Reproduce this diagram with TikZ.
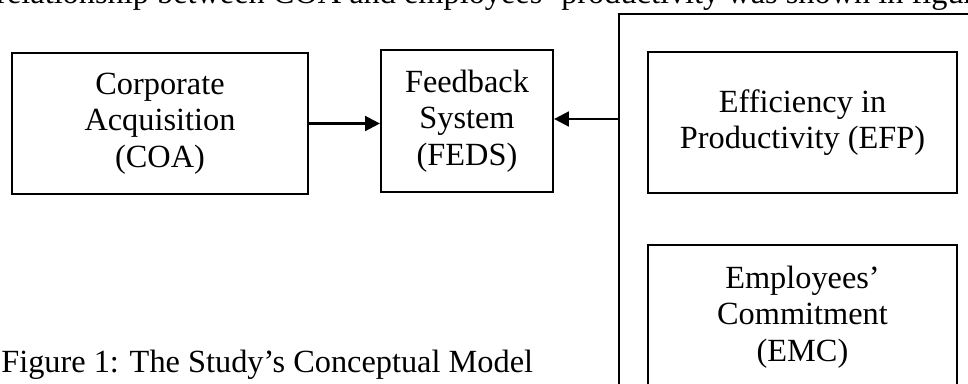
\documentclass[tikz,border=0pt]{standalone}
\usepackage{fontspec}
\setmainfont{Liberation Serif}
\usetikzlibrary{arrows.meta,positioning}

\begin{document}
\begin{tikzpicture}[x=0.025cm, y=-0.025cm,
    box/.style={draw, line width=1.5pt, align=center, inner sep=0pt, font=\fontsize{23}{26}\selectfont},
    link/.style={line width=1.7pt, -{Triangle[length=10.5pt, width=10.5pt]}},
    txt/.style={inner sep=0pt, anchor=base west, font=\fontsize{23}{26}\selectfont}]
  \useasboundingbox (0,0) rectangle (968,383);
  \clip (0,0) rectangle (968,383);

  % Running text above the figure
  \node[txt] (lead) at (-4,3) {relationship between COA and employees’ productivity was shown in figure};

  % Left boxes
  \node[box, minimum width=7.4cm, minimum height=3.525cm] (coa) at (160,123.5) {Corporate\\Acquisition\\(COA)};
  \node[box, minimum width=4.3cm, minimum height=3.55cm] (feds) at (467,121) {Feedback\\System\\(FEDS)};

  % Outer frame with the two outcome boxes
  \draw[line width=1.5pt] (619,14) rectangle (1000,420);
  \coordinate (framein) at (619,119);
  \node[box, minimum width=7.725cm, minimum height=3.525cm] (efp) at (802.5,122.5) {Efficiency in\\Productivity (EFP)};
  \node[box, minimum width=7.725cm, minimum height=3.6cm, anchor=north] (emc) at (802.5,244) {Employees’\\Commitment\\(EMC)};

  % Links
  \draw[link] (coa.east) -- (coa.east -| feds.west);
  \draw[link] (framein) -- (framein -| feds.east);

  % Caption
  \node[txt] (caption) at (1,372) {Figure 1: The Study’s Conceptual Model};
\end{tikzpicture}
\end{document}
